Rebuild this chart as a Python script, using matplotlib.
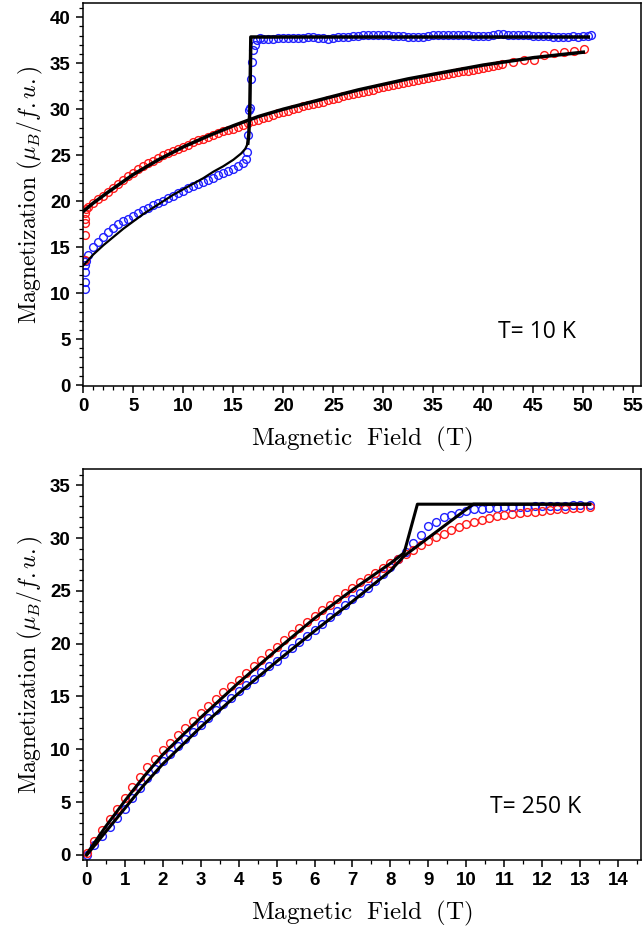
import numpy as np
import matplotlib.pyplot as plt
from matplotlib.ticker import MultipleLocator

plt.rcParams['mathtext.fontset'] = 'cm'

# ---------------- T = 10 K ----------------
x_up_10 = [0.2, 0.2, 0.2, 0.2, 0.3, 0.5, 1.0, 1.5, 2.0, 2.5, 3.0, 3.5, 4.0, 4.5, 5.0, 5.5,
           6.0, 6.5, 7.0, 7.5, 8.0, 8.5, 9.0, 9.5, 10.0, 10.5, 11.0, 11.5, 12.0, 12.5,
           13.0, 13.5, 14.0, 14.5, 15.0, 15.5, 16.0, 16.3, 16.4, 16.5, 16.55, 16.65,
           16.75, 16.85, 17.0, 17.2, 17.4, 17.7,
           18.0, 18.5, 19.0, 19.5, 20.0, 20.5, 21.0, 21.5, 22.0, 22.5, 23.0, 23.5, 24.0,
           24.5, 25.0, 25.5, 26.0, 26.5, 27.0, 27.5, 28.0, 28.5, 29.0, 29.5, 30.0, 30.5,
           31.0, 31.5, 32.0, 32.5, 33.0, 33.5, 34.0, 34.5, 35.0, 35.5, 36.0, 36.5, 37.0,
           37.5, 38.0, 38.5, 39.0, 39.5, 40.0, 40.5, 41.0, 41.5, 42.0, 42.5, 43.0, 43.5,
           44.0, 44.5, 45.0, 45.5, 46.0, 46.5, 47.0, 47.5, 48.0, 48.5, 49.0, 49.5, 50.0,
           50.5, 50.8]
m_up_10 = [10.5, 11.2, 12.3, 13.1, 13.5, 14.1, 15.0, 15.6, 16.1, 16.6, 17.1, 17.5, 17.8,
           18.1, 18.4, 18.7, 19.0, 19.3, 19.55, 19.8, 20.05, 20.3, 20.6, 20.85, 21.1,
           21.4, 21.7, 21.9, 22.1, 22.3, 22.55, 22.8, 23.05, 23.3, 23.55, 23.8, 24.1,
           24.6, 25.3, 27.2, 29.9, 30.1, 33.3, 35.1, 36.4, 37.0, 37.5, 37.7,
           37.6, 37.6, 37.65, 37.7, 37.75, 37.75, 37.7, 37.7, 37.75, 37.8, 37.8, 37.75,
           37.7, 37.65, 37.7, 37.8, 37.85, 37.9, 37.95, 38.0, 38.05, 38.05, 38.05, 38.1,
           38.05, 38.05, 38.0, 38.0, 37.95, 37.9, 37.85, 37.85, 37.9, 38.0, 38.05, 38.1,
           38.1, 38.1, 38.05, 38.05, 38.1, 38.05, 38.0, 37.95, 37.95, 37.95, 38.05, 38.2,
           38.2, 38.1, 38.1, 38.1, 38.1, 38.05, 38.0, 38.0, 38.0, 37.95, 37.9, 37.85,
           37.85, 37.9, 37.95, 37.9, 37.95, 38.0, 38.05]

x_dn_10 = [0.2, 0.2, 0.2, 0.2, 0.2, 0.3, 0.5, 1.0, 1.5, 2.0, 2.5, 3.0, 3.5, 4.0, 4.5, 5.0,
           5.5, 6.0, 6.5, 7.0, 7.5, 8.0, 8.5, 9.0, 9.5, 10.0, 10.5, 11.0, 11.5, 12.0,
           12.5, 13.0, 13.5, 14.0, 14.5, 15.0, 15.5, 16.0, 16.5, 17.0, 17.5, 18.0, 18.5,
           19.0, 19.5, 20.0, 20.5, 21.0, 21.5, 22.0, 22.5, 23.0, 23.5, 24.0, 24.5, 25.0,
           25.5, 26.0, 26.5, 27.0, 27.5, 28.0, 28.5, 29.0, 29.5, 30.0, 30.5, 31.0, 31.5,
           32.0, 32.5, 33.0, 33.5, 34.0, 34.5, 35.0, 35.5, 36.0, 36.5, 37.0, 37.5, 38.0,
           38.5, 39.0, 39.5, 40.0, 40.5, 41.0, 41.5,
           41.9, 43.0, 44.1, 45.1, 46.1, 47.1, 48.1, 49.1, 50.1]
m_dn_10 = [13.6, 16.3, 17.6, 18.1, 18.7, 19.2, 19.4, 19.8, 20.2, 20.6, 21.0, 21.4, 21.85,
           22.3, 22.7, 23.1, 23.45, 23.8, 24.1, 24.4, 24.7, 25.0, 25.25, 25.5, 25.7,
           25.9, 26.15, 26.4, 26.6, 26.8, 27.0, 27.2, 27.4, 27.6, 27.75, 27.9, 28.1,
           28.3, 28.5, 28.7, 28.85, 29.0, 29.2, 29.4, 29.55, 29.7, 29.85, 30.0, 30.15,
           30.3, 30.45, 30.6, 30.7, 30.8, 30.95, 31.1, 31.25, 31.4, 31.5, 31.6, 31.75,
           31.9, 32.0, 32.1, 32.25, 32.4, 32.5, 32.6, 32.7, 32.8, 32.95, 33.1, 33.2,
           33.3, 33.4, 33.5, 33.6, 33.7, 33.8, 33.9, 34.0, 34.1, 34.2, 34.3, 34.4, 34.5,
           34.6, 34.7, 34.8,
           34.9, 35.1, 35.4, 35.4, 35.9, 36.1, 36.2, 36.3, 36.5]

# calculated curves, T = 10 K
fx_dn_10 = [0.0, 1.0, 2.5, 5.0, 7.5, 10.0, 12.5, 15.0, 17.5, 20.0, 22.5, 25.0, 27.5,
            30.0, 32.5, 35.0, 37.5, 40.0, 42.5, 45.0, 47.5, 50.0]
fm_dn_10 = [18.9, 19.8, 21.0, 22.9, 24.5, 25.9, 27.1, 28.2, 29.2, 30.0, 30.7, 31.4, 32.1,
            32.7, 33.3, 33.8, 34.3, 34.8, 35.2, 35.6, 35.9, 36.2]
fx_up_10a = [0.0, 0.5, 1.0, 2.0, 3.0, 4.0, 5.0, 6.0, 7.0, 8.0, 9.0, 10.0, 11.0, 12.0,
             13.0, 14.0, 15.0, 15.8, 16.2, 16.45]
fm_up_10a = [13.0, 13.6, 14.2, 15.2, 16.1, 17.0, 17.8, 18.6, 19.3, 20.0, 20.7, 21.3, 21.9,
             22.5, 23.2, 23.8, 24.5, 25.2, 25.7, 26.3]
fx_up_10b = [16.45, 16.55, 16.65, 16.75, 20.0, 30.0, 40.0, 50.5]
fm_up_10b = [26.3, 27.3, 30.0, 37.85, 37.85, 37.85, 37.85, 37.85]

# ---------------- T = 250 K ----------------
x_250 = [0.0, 0.2, 0.4, 0.6, 0.8, 1.0, 1.2, 1.4, 1.6, 1.8, 2.0, 2.2, 2.4, 2.6, 2.8, 3.0,
         3.2, 3.4, 3.6, 3.8, 4.0, 4.2, 4.4, 4.6, 4.8, 5.0, 5.2, 5.4, 5.6, 5.8, 6.0, 6.2,
         6.4, 6.6, 6.8, 7.0, 7.2, 7.4, 7.6, 7.8, 8.0, 8.2, 8.4, 8.6, 8.8, 9.0, 9.2, 9.4,
         9.6, 9.8, 10.0, 10.2, 10.4, 10.6, 10.8, 11.0, 11.2, 11.4, 11.6, 11.8, 12.0, 12.2,
         12.4, 12.6, 12.8, 13.0, 13.25]
m_dn_250 = [0.2, 1.3, 2.4, 3.4, 4.4, 5.4, 6.4, 7.4, 8.3, 9.1, 9.9, 10.6, 11.35, 12.05,
            12.7, 13.4, 14.1, 14.75, 15.4, 16.0, 16.6, 17.25, 17.9, 18.5, 19.1, 19.7,
            20.3, 20.9, 21.5, 22.05, 22.6, 23.15, 23.7, 24.25, 24.8, 25.3, 25.8, 26.25,
            26.7, 27.15, 27.6, 28.05, 28.5, 28.9, 29.3, 29.7, 30.05, 30.4, 30.75, 31.05,
            31.3, 31.5, 31.75, 31.9, 32.05, 32.2, 32.3, 32.4, 32.45, 32.5, 32.6, 32.65,
            32.7, 32.75, 32.8, 32.85, 32.9]
m_up_250 = [0.0, 0.9, 1.8, 2.65, 3.5, 4.4, 5.35, 6.3, 7.25, 8.1, 8.9, 9.6, 10.3, 10.95,
            11.6, 12.3, 13.0, 13.7, 14.3, 14.9, 15.5, 16.1, 16.7, 17.3, 17.85, 18.4, 19.0,
            19.6, 20.2, 20.75, 21.3, 21.9, 22.5, 23.1, 23.65, 24.2, 24.75, 25.3, 25.9,
            26.6, 27.3, 28.0, 28.7, 29.5, 30.3, 31.1, 31.55, 31.95, 32.2, 32.4, 32.6,
            32.7, 32.75, 32.8, 32.85, 32.9, 32.9, 32.95, 32.95, 33.0, 33.0, 33.0, 33.05,
            33.05, 33.1, 33.1, 33.15]

fx_dn_250 = [0.0, 0.5, 1.0, 1.5, 2.0, 3.0, 4.0, 5.0, 6.0, 7.0, 8.0, 8.36, 8.71, 13.25]
fm_dn_250 = [0.1, 2.7, 5.1, 7.4, 9.5, 13.0, 16.3, 19.4, 22.4, 25.1, 27.6, 28.6, 33.2, 33.2]
fx_up_250 = [0.0, 0.5, 1.0, 1.5, 2.0, 3.0, 4.0, 5.0, 6.0, 7.0, 8.0, 8.36, 10.18, 13.25]
fm_up_250 = [0.0, 2.2, 4.4, 6.6, 8.6, 12.1, 15.3, 18.3, 21.2, 24.0, 26.9, 28.3, 33.2, 33.2]

blue = "#2020ff"
red = "#ff1a1a"
mk = dict(marker="o", linestyle="none", markersize=5.6, mfc="none", markeredgewidth=1.0)

fig = plt.figure(figsize=(6.43, 9.31), dpi=100)
ax1 = fig.add_axes([0.1296, 0.5854, 0.8673, 0.4119])
ax2 = fig.add_axes([0.1296, 0.0763, 0.8673, 0.4196])

ax1.plot(x_up_10, m_up_10, color=blue, mec=blue, **mk)
ax1.plot(x_dn_10, m_dn_10, color=red, mec=red, **mk)
ax1.plot(fx_up_10a, fm_up_10a, color="k", lw=1.6)
ax1.plot(fx_up_10b, fm_up_10b, color="k", lw=2.5)
ax1.plot(fx_dn_10, fm_dn_10, color="k", lw=2.5)

ax2.plot(x_250, m_up_250, color=blue, mec=blue, **mk)
ax2.plot(x_250, m_dn_250, color=red, mec=red, **mk)
ax2.plot(fx_up_250, fm_up_250, color="k", lw=2.2)
ax2.plot(fx_dn_250, fm_dn_250, color="k", lw=2.2)

ax1.set_xlim(0, 55.77)
ax1.set_ylim(-0.1, 41.6)
ax1.xaxis.set_major_locator(MultipleLocator(5))
ax1.xaxis.set_minor_locator(MultipleLocator(1))
ax1.yaxis.set_major_locator(MultipleLocator(5))
ax1.yaxis.set_minor_locator(MultipleLocator(1))

ax2.set_xlim(-0.09, 14.6)
ax2.set_ylim(-0.47, 36.5)
ax2.xaxis.set_major_locator(MultipleLocator(1))
ax2.xaxis.set_minor_locator(MultipleLocator(0.5))
ax2.yaxis.set_major_locator(MultipleLocator(5))
ax2.yaxis.set_minor_locator(MultipleLocator(1))

for ax in (ax1, ax2):
    ax.tick_params(which="major", direction="out", length=5, width=1.1, pad=4)
    ax.tick_params(which="minor", direction="out", length=3, width=0.9)
    for lab in ax.get_xticklabels() + ax.get_yticklabels():
        lab.set_fontfamily("Liberation Sans")
        lab.set_fontweight("bold")
        lab.set_fontsize(13.5)
    for s in ax.spines.values():
        s.set_linewidth(1.1)
    ax.set_xlabel(r"$\mathrm{Magnetic\ \ Field\ \ (T)}$", fontsize=18, labelpad=7)
    ax.set_ylabel(r"$\mathrm{Magnetization}\ (\mu_B/f.u.)$", fontsize=17, labelpad=4)

ax1.text(0.743, 0.14, "T= 10 K", transform=ax1.transAxes, fontsize=16.5,
         family="Open Sans", va="center", ha="left")
ax2.text(0.729, 0.135, "T= 250 K", transform=ax2.transAxes, fontsize=16.5,
         family="Open Sans", va="center", ha="left")

plt.savefig("out.png", dpi=100)
